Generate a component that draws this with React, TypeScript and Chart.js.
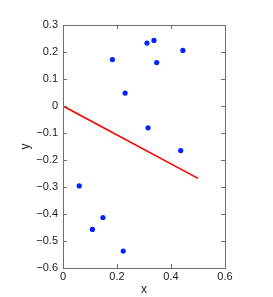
import React, { useEffect, useRef } from "react";
import { Chart, registerables } from "chart.js";

Chart.register(...registerables);

const pointsX = [0.06, 0.109, 0.148, 0.223, 0.183, 0.23, 0.311, 0.337, 0.347, 0.444, 0.315, 0.436];
const pointsY = [-0.296, -0.457, -0.413, -0.537, 0.172, 0.048, 0.233, 0.243, 0.161, 0.206, -0.081, -0.165];
const lineX = [0, 0.5];
const lineY = [0, -0.268];
const xTicks = [0, 0.2, 0.4, 0.6];
const yTicks = [-0.6, -0.5, -0.4, -0.3, -0.2, -0.1, 0, 0.1, 0.2, 0.3];

const fmt = (v: number) => {
  const r = Math.round(v * 10) / 10;
  if (r === 0) return "0";
  const s = Math.abs(r).toFixed(1);
  return r < 0 ? "\u2212" + s : s;
};

const boxPlugin = {
  id: "matlabBox",
  afterDatasetsDraw(chart: any) {
    const { ctx, chartArea: a, scales } = chart;
    ctx.save();
    ctx.strokeStyle = "#6e6e6e";
    ctx.lineWidth = 1;
    ctx.beginPath();
    const L = 4;
    for (const v of xTicks) {
      const px = Math.round(scales.x.getPixelForValue(v)) + 0.5;
      ctx.moveTo(px, a.bottom);
      ctx.lineTo(px, a.bottom - L);
      ctx.moveTo(px, a.top);
      ctx.lineTo(px, a.top + L);
    }
    for (const v of yTicks) {
      const py = Math.round(scales.y.getPixelForValue(v)) + 0.5;
      ctx.moveTo(a.left, py);
      ctx.lineTo(a.left + L, py);
      ctx.moveTo(a.right, py);
      ctx.lineTo(a.right - L, py);
    }
    ctx.stroke();
    ctx.strokeRect(Math.round(a.left) + 0.5, Math.round(a.top) + 0.5, Math.round(a.right - a.left), Math.round(a.bottom - a.top));
    ctx.restore();
  },
};

export default function App() {
  const ref = useRef<HTMLCanvasElement>(null);
  useEffect(() => {
    const font = { family: "'Liberation Sans', Arial, Helvetica, sans-serif", size: 11 };
    const chart = new Chart(ref.current!, {
      type: "scatter",
      data: {
        datasets: [
          {
            data: pointsX.map((x, i) => ({ x, y: pointsY[i] })),
            backgroundColor: "#0022ff",
            borderColor: "#0022ff",
            pointRadius: 2.6,
            borderWidth: 0,
          },
          {
            type: "line",
            data: lineX.map((x, i) => ({ x, y: lineY[i] })),
            borderColor: "#ff0000",
            borderWidth: 1.6,
            pointRadius: 0,
            fill: false,
          } as any,
        ],
      },
      options: {
        animation: false,
        responsive: false,
        maintainAspectRatio: false,
        layout: { padding: { top: 25, right: 48, left: 0, bottom: 0 } },
        plugins: { legend: { display: false }, tooltip: { enabled: false } },
        scales: {
          x: {
            type: "linear",
            min: 0,
            max: 0.6,
            afterBuildTicks: (s: any) => { s.ticks = xTicks.map((v) => ({ value: v })); },
            afterFit: (s: any) => { s.height = 29; },
            grid: { display: false, drawTicks: false },
            border: { display: false },
            ticks: { color: "#222", font, padding: 2, maxRotation: 0, callback: (v: any) => fmt(Number(v)) },
            title: { display: true, text: "x", color: "#222", font: { ...font, size: 12 }, padding: { top: 0, bottom: 0 } },
          },
          y: {
            type: "linear",
            min: -0.6,
            max: 0.3,
            afterBuildTicks: (s: any) => { s.ticks = yTicks.map((v) => ({ value: v })); },
            afterFit: (s: any) => { s.width = 63; },
            grid: { display: false, drawTicks: false },
            border: { display: false },
            ticks: { color: "#222", font, padding: 5, callback: (v: any) => fmt(Number(v)) },
            title: { display: true, text: "y", color: "#222", font: { ...font, size: 12 }, padding: { top: 18, bottom: 0 } },
          },
        },
      },
      plugins: [boxPlugin],
    });
    return () => chart.destroy();
  }, []);
  return (
    <div style={{ position: "absolute", left: 0, top: 0, width: 273, height: 297, background: "#fff" }}>
      <canvas ref={ref} width={273} height={297} style={{ width: 273, height: 297 }} />
    </div>
  );
}
